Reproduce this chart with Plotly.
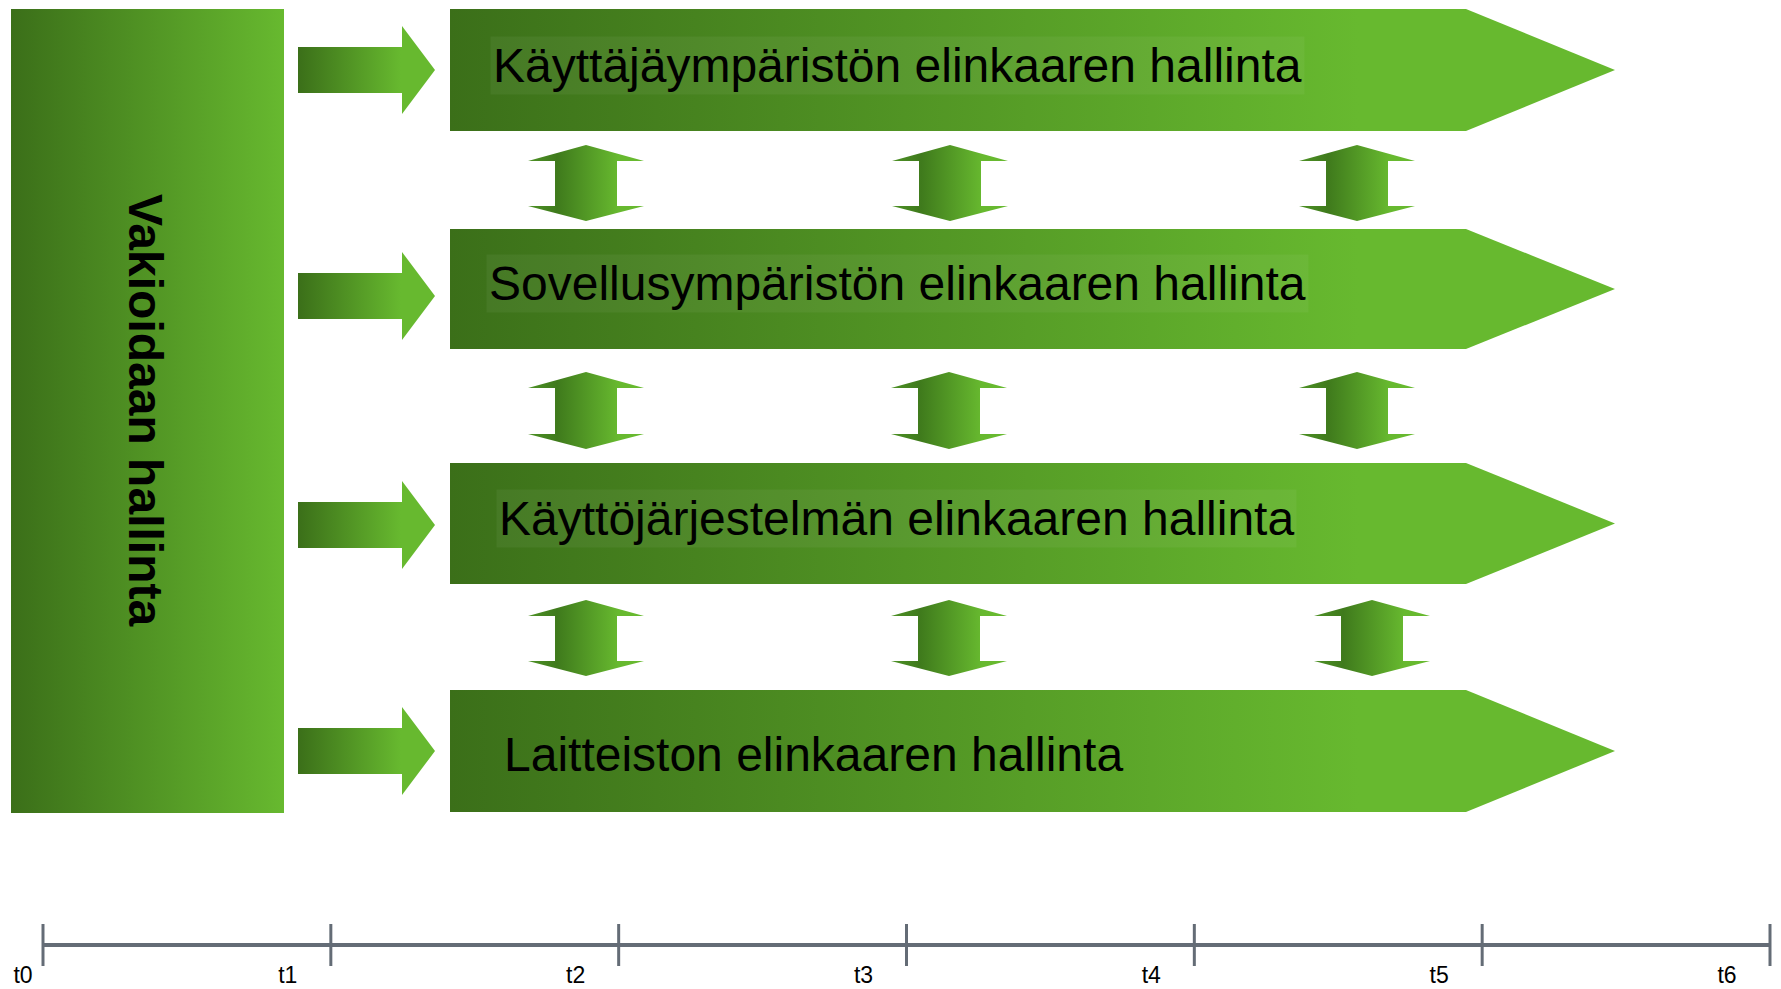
import plotly.graph_objects as go

# ---------------- data ----------------
row_labels = [
    "Käyttäjäympäristön elinkaaren hallinta",
    "Sovellusympäristön elinkaaren hallinta",
    "Käyttöjärjestelmän elinkaaren hallinta",
    "Laitteiston elinkaaren hallinta",
]
row_label_boxed = [True, True, True, False]
side_label = "Vakioidaan hallinta"
time_labels = ["t0", "t1", "t2", "t3", "t4", "t5", "t6"]

# ---------------- layout geometry (pixel space) ----------------
W, H = 1781, 989
row_tops = [9, 229, 463, 690]
row_bottoms = [131, 349, 584, 812]
band_x0, band_x1, band_tip = 450, 1466, 1615
label_x = [490, 486, 496, 501]
label_y = [65, 283, 518, 754]

small_arrow_y = [70, 296, 525, 751]
sa_x0, sa_x1, sa_tip, sa_shaft, sa_head = 298, 402, 435, 23, 44

gap_tops = [145, 372, 600]
gap_bottoms = [221, 449, 676]
gap_centers = [[586, 950, 1357], [586, 949, 1357], [586, 949, 1372]]
da_head, da_shaft, da_top_h, da_bot_h = 58, 31, 16, 15

left_box = (11, 284, 9, 813)

tl_x0, tl_x1, tl_y = 43, 1770, 945

DARK = "#3b6f19"
LIGHT = "#67b92f"
FONT = "Liberation Sans, Arial, sans-serif"

fig = go.Figure()


def poly(xs, ys, scale):
    fig.add_trace(go.Scatter(
        x=xs + [xs[0]], y=ys + [ys[0]], mode="lines", fill="toself",
        line=dict(width=0, color="rgba(0,0,0,0)"),
        fillgradient=dict(type="horizontal", colorscale=scale),
        hoverinfo="skip", showlegend=False))


# left big box
x0, x1, y0, y1 = left_box
poly([x0, x1, x1, x0], [y0, y0, y1, y1], [[0, DARK], [1, LIGHT]])

# small arrows
for cy in small_arrow_y:
    xs = [sa_x0, sa_x1, sa_x1, sa_tip, sa_x1, sa_x1, sa_x0]
    ys = [cy - sa_shaft, cy - sa_shaft, cy - sa_head, cy, cy + sa_head, cy + sa_shaft, cy + sa_shaft]
    poly(xs, ys, [[0, DARK], [0.75, LIGHT], [1, LIGHT]])

# chevron bands
for t, b in zip(row_tops, row_bottoms):
    m = (t + b) / 2
    poly([band_x0, band_x1, band_tip, band_x1, band_x0], [t, t, m, b, b],
         [[0, DARK], [0.78, LIGHT], [1, LIGHT]])

# double arrows
for t, b, centers in zip(gap_tops, gap_bottoms, gap_centers):
    for cx in centers:
        xs = [cx, cx + da_head, cx + da_shaft, cx + da_shaft, cx + da_head, cx,
              cx - da_head, cx - da_shaft, cx - da_shaft, cx - da_head]
        ys = [t, t + da_top_h, t + da_top_h, b - da_bot_h, b - da_bot_h, b,
              b - da_bot_h, b - da_bot_h, t + da_top_h, t + da_top_h]
        poly(xs, ys, [[0, "#4e9226"], [0.25, "#3f7a1c"], [0.78, LIGHT], [1, LIGHT]])

# timeline
n = len(time_labels)
tick_x = [tl_x0 + i * (tl_x1 - tl_x0) / (n - 1) for i in range(n)]
fig.add_trace(go.Scatter(x=[tl_x0, tl_x1], y=[tl_y, tl_y], mode="lines",
                         line=dict(color="#646c76", width=4),
                         hoverinfo="skip", showlegend=False))
fig.add_trace(go.Scatter(x=tick_x, y=[tl_y] * n, mode="markers",
                         marker=dict(symbol="line-ns", size=30,
                                     line=dict(color="#646c76", width=3)),
                         hoverinfo="skip", showlegend=False))
lab_x = [max(x - 43, 23) for x in tick_x]
fig.add_trace(go.Scatter(x=lab_x, y=[977] * n, mode="text", text=time_labels,
                         textposition="middle center",
                         textfont=dict(family=FONT, size=23, color="black"),
                         hoverinfo="skip", showlegend=False))

annotations = []
for lab, boxed, x, y in zip(row_labels, row_label_boxed, label_x, label_y):
    annotations.append(dict(
        x=x, y=y, xref="x", yref="y", text=lab, showarrow=False,
        xanchor="left", yanchor="middle",
        font=dict(family=FONT, size=48, color="black"),
        bgcolor="rgba(255,255,255,0.05)" if boxed else "rgba(0,0,0,0)",
        borderpad=2))
annotations.append(dict(
    x=146, y=410, xref="x", yref="y", text="<b>" + side_label + "</b>",
    showarrow=False, textangle=90, xanchor="center", yanchor="middle",
    font=dict(family=FONT, size=48, color="black")))

fig.update_layout(
    width=W, height=H, margin=dict(l=0, r=0, t=0, b=0),
    paper_bgcolor="white", plot_bgcolor="white",
    xaxis=dict(range=[0, W], visible=False, fixedrange=True),
    yaxis=dict(range=[H, 0], visible=False, fixedrange=True),
    annotations=annotations, showlegend=False,
)

fig.write_html("out.html", config={"displayModeBar": False, "staticPlot": True},
               post_script="document.body.style.margin='0';document.body.style.overflow='hidden';")
